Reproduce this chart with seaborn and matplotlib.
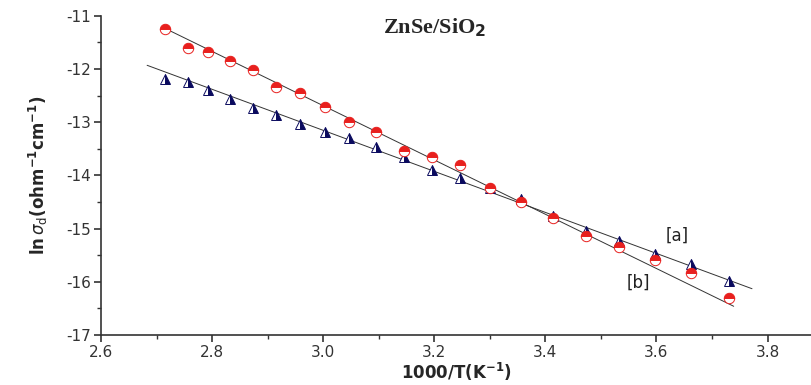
import numpy as np
import matplotlib
matplotlib.use("Agg")
import matplotlib.pyplot as plt
import seaborn as sns

# -------------------------------
# Data
# -------------------------------
inv_T = [2.716, 2.756, 2.793, 2.832, 2.873, 2.915, 2.959, 3.004, 3.047, 3.095,
         3.145, 3.196, 3.247, 3.300, 3.356, 3.413, 3.473, 3.533, 3.597, 3.663, 3.730]

ln_sigma_b = [-11.24, -11.61, -11.68, -11.85, -12.02, -12.33, -12.45, -12.72, -12.99, -13.19,
              -13.55, -13.65, -13.81, -14.24, -14.50, -14.80, -15.13, -15.34, -15.59, -15.84, -16.31]

ln_sigma_a = [-12.18, -12.25, -12.39, -12.57, -12.74, -12.86, -13.04, -13.19, -13.29, -13.46,
              -13.66, -13.90, -14.04, -14.24, -14.44, -14.77, -15.05, -15.24, -15.47, -15.67, -15.99]

# fitted lines (end points)
fit_a_x = [2.683, 3.772]
fit_a_y = [-11.93, -16.13]
fit_b_x = [2.716, 3.739]
fit_b_y = [-11.24, -16.46]

x_ticks = [2.6, 2.8, 3.0, 3.2, 3.4, 3.6, 3.8]
y_ticks = [-17, -16, -15, -14, -13, -12, -11]

# -------------------------------
# Plot
# -------------------------------
sns.set_style("ticks")
plt.rcParams['font.family'] = ['DejaVu Sans']
plt.rcParams['axes.unicode_minus'] = False

fig = plt.figure(figsize=(8.12, 3.85), dpi=100)
ax = fig.add_axes([0.1244, 0.1299, 0.8756, 0.829])

sns.lineplot(x=fit_a_x, y=fit_a_y, color="#333333", lw=0.7, ax=ax)
sns.lineplot(x=fit_b_x, y=fit_b_y, color="#333333", lw=0.7, ax=ax)

# triangles: half navy / half white
ax.plot(inv_T, ln_sigma_a, ls="none", marker="^", ms=7.5, fillstyle="right",
        markerfacecolor="#0a0a5e", markerfacecoloralt="white",
        markeredgecolor="#0a0a5e", markeredgewidth=0.7, zorder=3)
# circles: half red / half white
ax.plot(inv_T, ln_sigma_b, ls="none", marker="o", ms=7.5, fillstyle="top",
        markerfacecolor="#e8201e", markerfacecoloralt="white",
        markeredgecolor="#e8201e", markeredgewidth=0.7, zorder=4)

ax.set_xlim(2.6, 3.88)
ax.set_ylim(-17, -11)
ax.set_xticks(x_ticks)
ax.set_yticks(y_ticks)
ax.set_xticklabels([f"{v:.1f}" for v in x_ticks])
ax.set_yticklabels([f"{v}" for v in y_ticks])
ax.set_xticks(np.arange(2.7, 3.9, 0.2), minor=True)
ax.set_yticks(np.arange(-16.5, -11, 1.0), minor=True)

sns.despine(ax=ax)
for s in ["left", "bottom"]:
    ax.spines[s].set_color("#333333")
    ax.spines[s].set_linewidth(1.2)
ax.tick_params(which="major", length=5, width=1.2, color="#333333",
               labelsize=11, labelcolor="#333333", pad=2)
ax.tick_params(which="minor", length=3, width=1.0, color="#333333")

ax.set_xlabel(r"1000/T(K$^{\mathbf{-1}}$)", fontsize=12, fontweight="bold", labelpad=1)
ax.set_ylabel(r"ln$\,\sigma_{\rm d}$(ohm$^{\mathbf{-1}}$cm$^{\mathbf{-1}}$)",
              fontsize=12, fontweight="bold", labelpad=12)

ax.text(3.20, -11.23, "ZnSe/SiO$_\\mathbf{2}$", fontsize=16, fontweight="bold",
        family="Liberation Serif", ha="center", va="center")
ax.text(3.637, -15.13, "[a]", fontsize=12, ha="center", va="center", color="#222222")
ax.text(3.568, -16.02, "[b]", fontsize=12, ha="center", va="center", color="#222222")

fig.savefig("out.png", dpi=100)
